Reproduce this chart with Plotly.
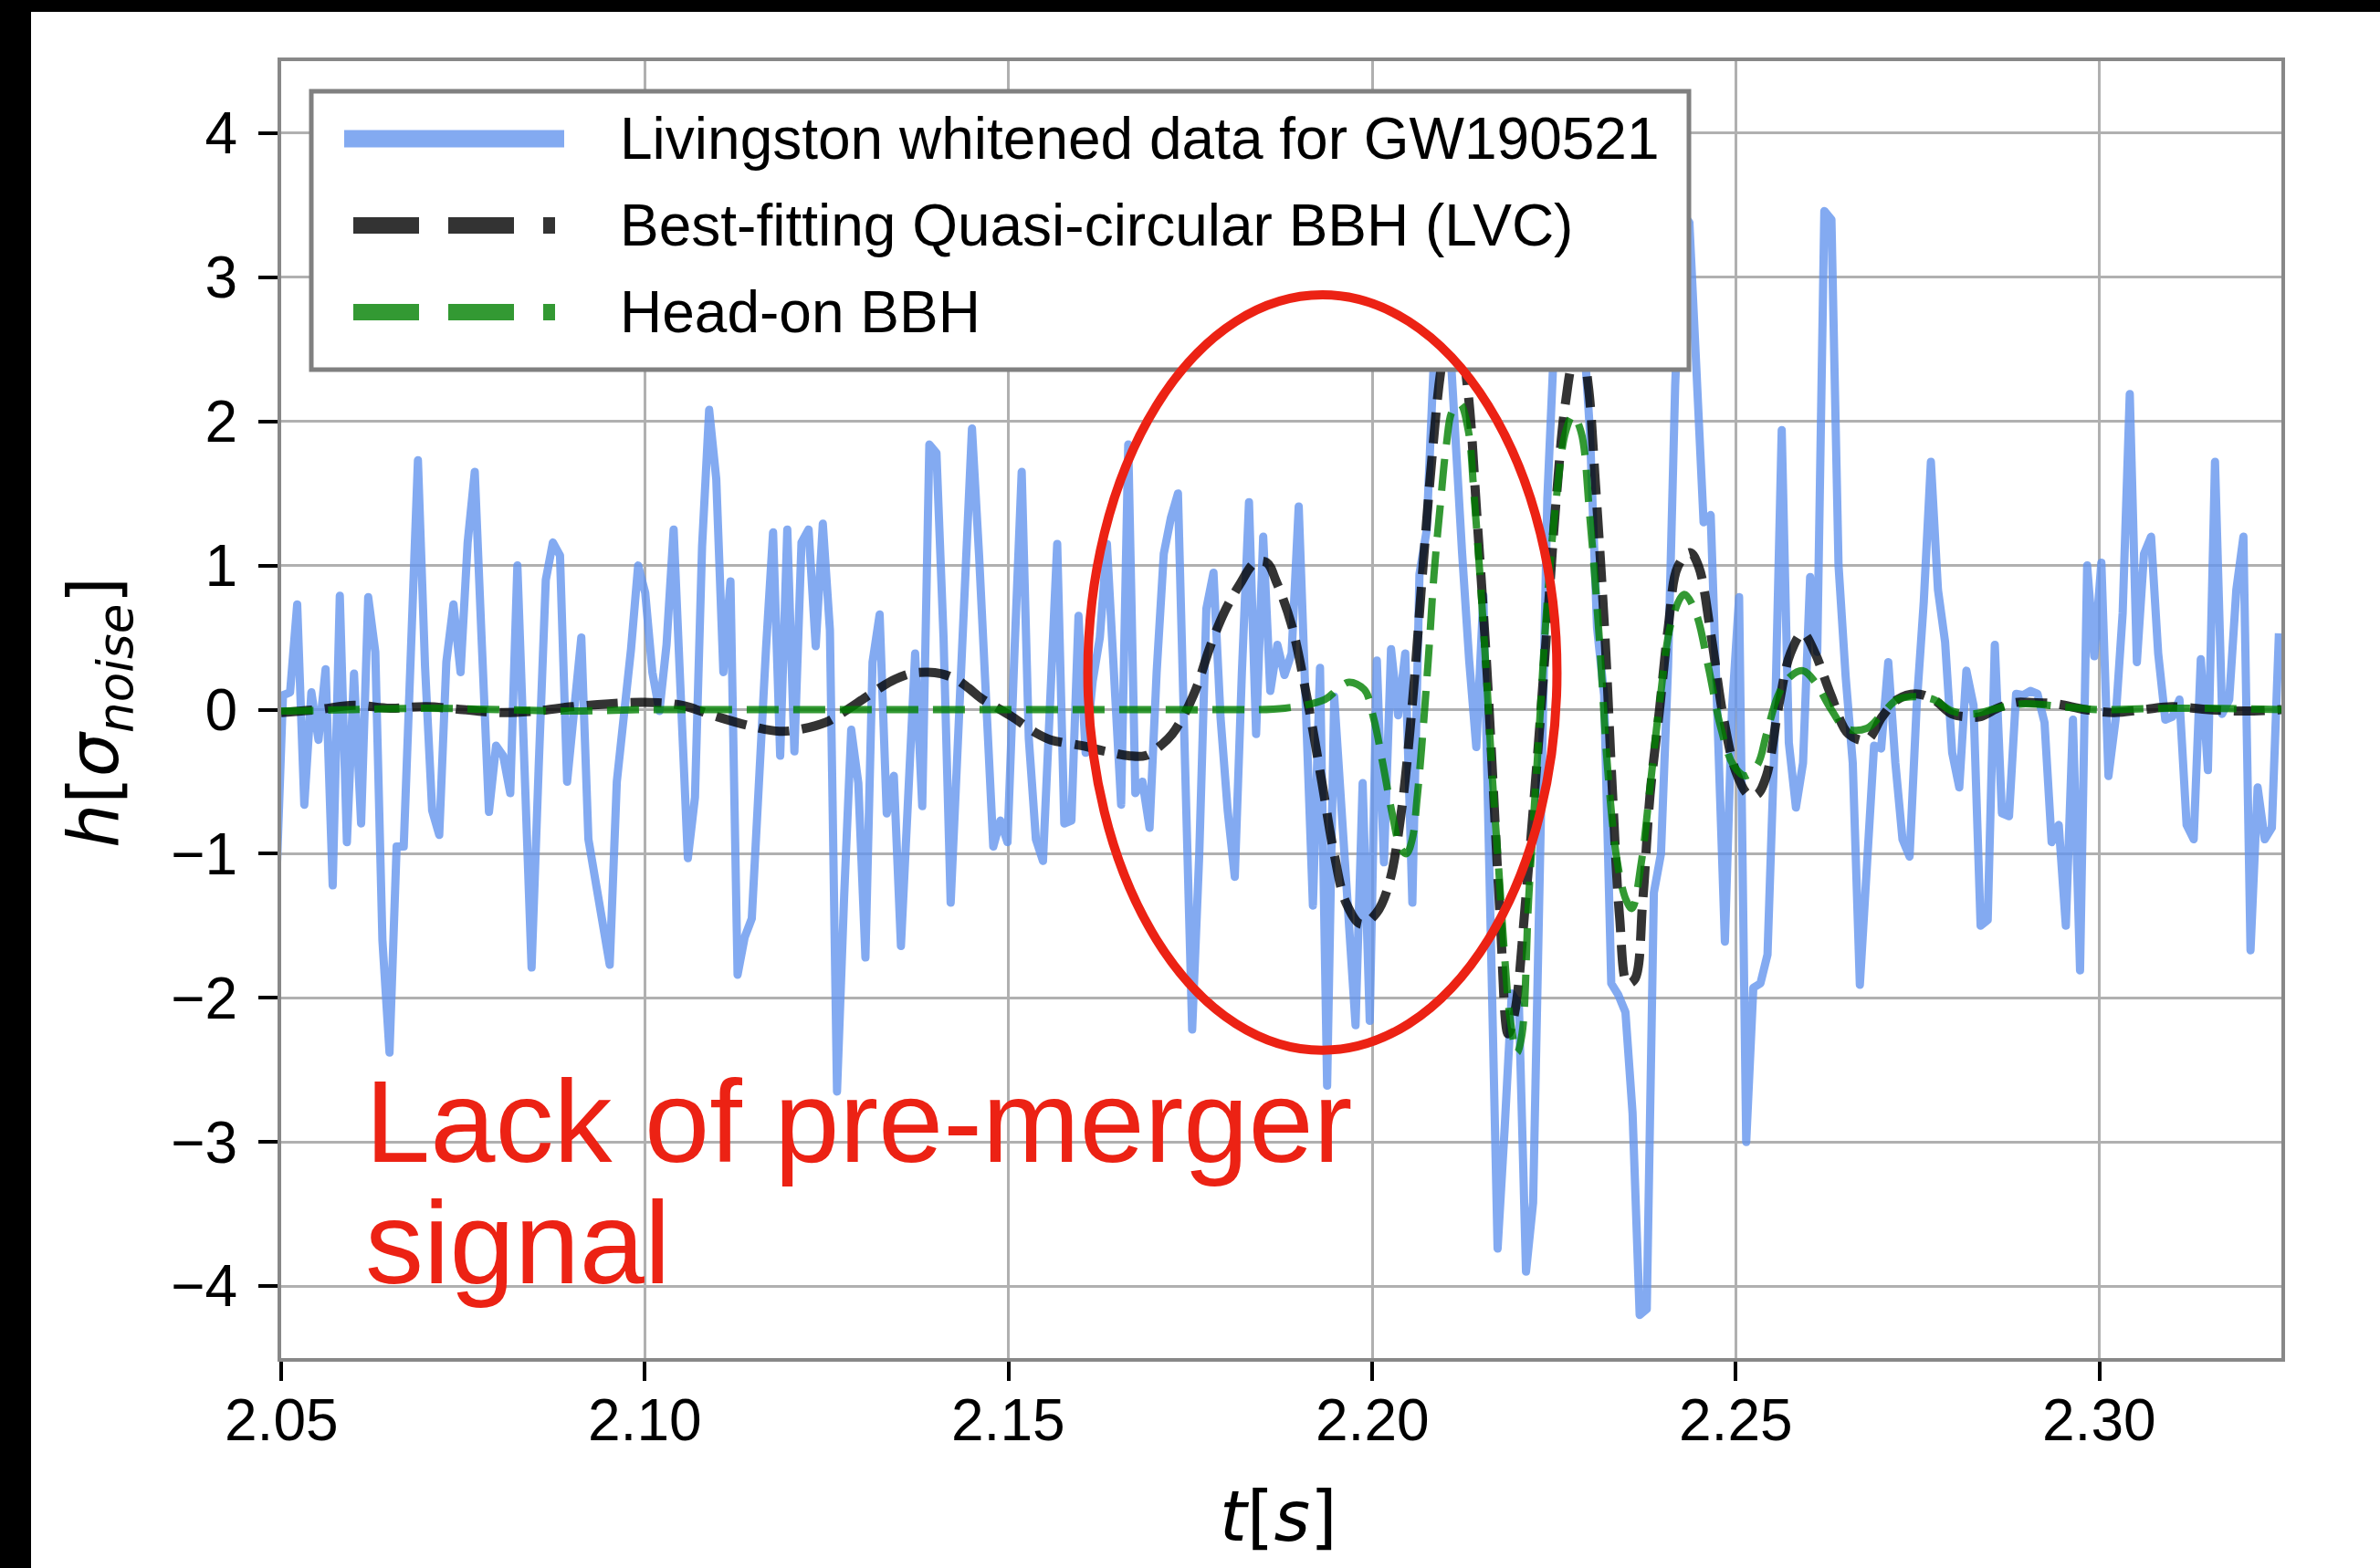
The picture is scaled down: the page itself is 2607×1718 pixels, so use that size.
import numpy as np
import plotly.graph_objects as go

# ---------------- data ----------------
# Livingston whitened strain, sampled at 1024 Hz starting at T0
FS = 1024.0
T0 = 2.04927
h_livingston = [
    -1.3,
    0.1, 0.12, 0.73, -0.66, 0.12, -0.21, 0.28, -1.22, 0.79, -0.92,
    0.25, -0.79, 0.78, 0.4, -1.6, -2.38, -0.95, -0.95, 0.4, 1.73,
    0.3, -0.7, -0.87, 0.33, 0.73, 0.26, 1.16, 1.65, 0.45, -0.71,
    -0.25, -0.32, -0.58, 1.0, -0.4, -1.79, -0.4, 0.9, 1.16, 1.07,
    -0.5, 0.0, 0.5, -0.9, -1.19, -1.5, -1.77, -0.5, -0.06, 0.42,
    1.0, 0.81, 0.26, -0.01, 0.45, 1.25, 0.1, -1.03, -0.61, 1.13,
    2.08, 1.6, 0.26, 0.89, -1.84, -1.58, -1.45, -0.4, 0.42, 1.23,
    -0.32, 1.25, -0.29, 1.16, 1.25, 0.44, 1.29, 0.55, -2.65, -1.3,
    -0.14, -0.51, -1.72, 0.33, 0.66, -0.72, -0.46, -1.64, -0.63, 0.39,
    -0.67, 1.84, 1.78, 0.5, -1.34, -0.32, 0.78, 1.95, 1.07, 0.0,
    -0.95, -0.77, -0.92, 0.42, 1.65, -0.2, -0.9, -1.05, -0.05, 1.15,
    -0.79, -0.77, 0.65, -0.3, 0.2, 0.5, 1.15, 0.33, -0.66, 1.84,
    -0.58, -0.5, -0.82, 0.26, 1.08, 1.33, 1.5, -0.38, -2.22, -1.0,
    0.7, 0.95, -0.06, -0.7, -1.16, 0.26, 1.44, -0.17, 1.2, 0.13,
    0.45, 0.24, 0.39, 1.41, 0.04, -1.36, 0.29, -2.61, 0.09, -0.66,
    -1.41, -2.19, -0.51, -2.16, 0.34, -1.06, 0.42, -0.04, 0.39, -1.34,
    0.94, 1.24, 2.4, 3.0, 2.8, 1.84, 1.09, 0.34, -0.26, 0.79,
    -1.66, -3.74, -2.9, -1.97, -2.05, -3.9, -3.42, -0.8, 1.46, 2.6,
    3.2, 2.8, 3.3, 2.7, 1.93, 0.57, 0.1, -1.9, -1.98, -2.1,
    -2.8, -4.2, -4.16, -1.27, -1.0, 0.3, 2.25, 3.45, 3.38, 2.35,
    1.3, 1.35, 0.0, -1.61, 0.0, 0.78, -3.0, -1.93, -1.9, -1.7,
    -0.2, 1.94, -0.23, -0.68, -0.37, 0.92, 0.4, 3.46, 3.4, 1.0,
    0.23, -0.37, -1.91, -0.98, -0.25, -0.27, 0.33, -0.37, -0.9, -1.02,
    0.03, 0.75, 1.72, 0.83, 0.47, -0.3, -0.54, 0.27, 0.03, -1.5,
    -1.46, 0.45, -0.72, -0.74, 0.11, 0.1, 0.13, 0.11, -0.09, -0.92,
    -0.8, -1.5, -0.07, -1.81, 1.0, 0.37, 1.02, -0.46, -0.07, 0.67,
    2.19, 0.33, 1.08, 1.2, 0.39, -0.07, -0.05, 0.07, -0.8, -0.9,
    0.35, -0.42, 1.72, -0.03, 0.07, 0.83, 1.2, -1.67, -0.54, -0.9,
    -0.82, 0.53,
]
t_livingston = T0 + np.arange(len(h_livingston)) / FS

# Best-fitting quasi-circular BBH (LVC)
t_qc = [
    2.0500, 2.0550, 2.0600, 2.0650, 2.0700, 2.0750, 2.0800, 2.0850, 2.0900, 2.0950,
    2.1000, 2.1050, 2.1100, 2.1150, 2.1185, 2.1210, 2.1248, 2.1269, 2.1302, 2.1323,
    2.1344, 2.1365, 2.1386, 2.1407, 2.1428, 2.1445, 2.1462, 2.1482, 2.1505, 2.1537,
    2.1558, 2.1600, 2.1634, 2.1665, 2.1688, 2.1709, 2.1725, 2.1742, 2.1759, 2.1776,
    2.1797, 2.1818, 2.1839, 2.1855, 2.1868, 2.1889, 2.1910, 2.1931, 2.1948, 2.1964,
    2.1985, 2.2006, 2.2023, 2.2040, 2.2056, 2.2069, 2.2082, 2.2094, 2.2108, 2.2120,
    2.2132, 2.2144, 2.2157, 2.2166, 2.2176, 2.2187, 2.2196, 2.2211, 2.2228, 2.2241,
    2.2253, 2.2266, 2.2278, 2.2288, 2.2297, 2.2307, 2.2320, 2.2330, 2.2340, 2.2351,
    2.2361, 2.2372, 2.2382, 2.2395, 2.2407, 2.2420, 2.2437, 2.2449, 2.2466, 2.2483,
    2.2500, 2.2517, 2.2529, 2.2542, 2.2559, 2.2575, 2.2592, 2.2609, 2.2630, 2.2655,
    2.2680, 2.2701, 2.2722, 2.2747, 2.2772, 2.2797, 2.2818, 2.2835, 2.2860, 2.2885,
    2.2902, 2.2940, 2.2980, 2.3020, 2.3060, 2.3100, 2.3150, 2.3200, 2.3250,
]
h_qc = [
    -0.02, 0.00, 0.03, 0.01, 0.02, 0.00, -0.02, -0.01, 0.02, 0.04,
    0.05, 0.03, -0.05, -0.12, -0.15, -0.14, -0.09, -0.03, 0.08, 0.15,
    0.21, 0.25, 0.26, 0.25, 0.21, 0.15, 0.08, 0.02, -0.05, -0.16,
    -0.21, -0.25, -0.29, -0.32, -0.32, -0.25, -0.17, -0.03, 0.16, 0.42,
    0.68, 0.87, 1.02, 1.02, 0.89, 0.59, 0.09, -0.51, -1.01, -1.34,
    -1.49, -1.41, -1.21, -0.71, 0.09, 0.94, 1.74, 2.34, 2.75, 2.6,
    2.19, 1.34, 0.34, -0.5, -1.45, -2.25, -2.1, -1.32, -0.27, 0.62,
    1.46, 2.14, 2.45, 2.5, 2.25, 1.56, 0.51, -0.54, -1.43, -1.9,
    -1.87, -1.32, -0.59, 0.0, 0.57, 0.99, 1.09, 0.99, 0.51, -0.06,
    -0.43, -0.59, -0.59, -0.46, 0.03, 0.39, 0.53, 0.39, 0.11, -0.17,
    -0.21, -0.05, 0.07, 0.11, 0.07, -0.03, -0.05, -0.05, 0.01, 0.05,
    0.05, 0.04, 0.0, -0.02, 0.0, 0.02, 0.0, -0.01, 0.0,
]

# Head-on BBH
t_headon = [
    2.0500, 2.0600, 2.0700, 2.0800, 2.0900, 2.1000, 2.1100, 2.1200, 2.1300, 2.1400,
    2.1500, 2.1600, 2.1700, 2.1800, 2.1880, 2.1935, 2.1952, 2.1968, 2.1989, 2.2002,
    2.2014, 2.2027, 2.2039, 2.2047, 2.2055, 2.2062, 2.2068, 2.2077, 2.2085, 2.2094,
    2.2102, 2.2110, 2.2121, 2.2132, 2.2140, 2.2148, 2.2157, 2.2165, 2.2174, 2.2182,
    2.2190, 2.2199, 2.2206, 2.2215, 2.2228, 2.2241, 2.2253, 2.2266, 2.2276, 2.2287,
    2.2299, 2.2312, 2.2324, 2.2337, 2.2349, 2.2357, 2.2370, 2.2382, 2.2395, 2.2412,
    2.2429, 2.2445, 2.2462, 2.2479, 2.2496, 2.2513, 2.2530, 2.2542, 2.2559, 2.2575,
    2.2592, 2.2609, 2.2630, 2.2651, 2.2680, 2.2701, 2.2722, 2.2747, 2.2772, 2.2797,
    2.2826, 2.2860, 2.2894, 2.2950, 2.3000, 2.3100, 2.3250,
]
h_headon = [
    -0.01, 0.0, 0.01, 0.0, -0.01, 0.0, 0.0, 0.0, 0.0, 0.0,
    0.0, 0.0, 0.0, 0.0, 0.01, 0.07, 0.14, 0.19, 0.14, -0.06,
    -0.36, -0.71, -0.96, -1.0, -0.9, -0.6, -0.26, 0.34, 0.94, 1.44,
    1.84, 2.07, 2.12, 1.94, 1.49, 0.94, 0.24, -0.46, -1.11, -1.71,
    -2.16, -2.38, -2.25, -1.32, -0.27, 0.78, 1.46, 1.93, 2.04, 1.93,
    1.35, 0.51, -0.43, -1.06, -1.32, -1.38, -1.06, -0.54, 0.04, 0.62,
    0.8, 0.67, 0.3, -0.12, -0.38, -0.46, -0.38, -0.17, 0.11, 0.23,
    0.27, 0.19, 0.01, -0.13, -0.13, -0.03, 0.07, 0.09, 0.07, -0.01,
    -0.03, 0.01, 0.04, 0.02, 0.0, 0.01, 0.0,
]

x_tickvals = [2.05, 2.10, 2.15, 2.20, 2.25, 2.30]
x_ticktext = ["2.05", "2.10", "2.15", "2.20", "2.25", "2.30"]
y_tickvals = [-4, -3, -2, -1, 0, 1, 2, 3, 4]
y_ticktext = ["\u22124", "\u22123", "\u22122", "\u22121", "0", "1", "2", "3", "4"]

legend_labels = [
    "Livingston whitened data for GW190521",
    "Best-fitting Quasi-circular BBH (LVC)",
    "Head-on BBH",
]
note_lines = ["Lack of pre-merger", "signal"]
# region highlighted by the red ellipse (data units)
ellipse_t = [2.1609, 2.2254]
ellipse_h = [-2.364, 2.878]

# ---------------- styling ----------------
W, H = 2607, 1718
L, R, T, B = 308, 2499, 67, 1488  # plot area in pixels
PW, PH = R - L, B - T

def px(x):
    return (x - L) / PW

def py(y):
    return (B - y) / PH

BLUE = "rgba(100,149,237,0.8)"
BLACK = "rgba(0,0,0,0.8)"
GREEN = "rgba(0,128,0,0.8)"
RED = "rgb(236,34,20)"
SANS = "Liberation Sans, Arial, Helvetica, sans-serif"
MATH = "DejaVu Sans, sans-serif"

fig = go.Figure()
fig.add_trace(go.Scatter(x=t_livingston, y=h_livingston, mode="lines",
                         line=dict(color=BLUE, width=9), name=legend_labels[0],
                         showlegend=False))
fig.add_trace(go.Scatter(x=t_qc, y=h_qc, mode="lines",
                         line=dict(color=BLACK, width=10, dash="34px,14px", shape="spline"),
                         name=legend_labels[1], showlegend=False))
fig.add_trace(go.Scatter(x=t_headon, y=h_headon, mode="lines",
                         line=dict(color=GREEN, width=8, dash="35px,16px", shape="spline"),
                         name=legend_labels[2], showlegend=False))

shapes = []
# black strips on top and left of the picture
shapes.append(dict(type="rect", xref="paper", yref="paper", x0=px(-50), x1=px(34),
                   y0=py(H + 50), y1=py(-50), fillcolor="black", line=dict(width=0), layer="above"))
shapes.append(dict(type="rect", xref="paper", yref="paper", x0=px(-50), x1=px(W + 50),
                   y0=py(13), y1=py(-50), fillcolor="black", line=dict(width=0), layer="above"))
# legend frame
shapes.append(dict(type="rect", xref="paper", yref="paper", x0=px(341), x1=px(1850),
                   y0=py(405), y1=py(100), fillcolor="white",
                   line=dict(color="#808080", width=5), layer="above"))
legend_rows = [152, 247, 342]
shapes.append(dict(type="line", xref="paper", yref="paper", x0=px(377), x1=px(618),
                   y0=py(legend_rows[0]), y1=py(legend_rows[0]),
                   line=dict(color=BLUE, width=19), layer="above"))
shapes.append(dict(type="line", xref="paper", yref="paper", x0=px(387), x1=px(608),
                   y0=py(legend_rows[1]), y1=py(legend_rows[1]),
                   line=dict(color=BLACK, width=18, dash="72px,32px"), layer="above"))
shapes.append(dict(type="line", xref="paper", yref="paper", x0=px(387), x1=px(608),
                   y0=py(legend_rows[2]), y1=py(legend_rows[2]),
                   line=dict(color=GREEN, width=18, dash="72px,32px"), layer="above"))
# red ellipse
shapes.append(dict(type="circle", xref="x", yref="y", x0=ellipse_t[0], x1=ellipse_t[1],
                   y0=ellipse_h[0], y1=ellipse_h[1], line=dict(color=RED, width=10),
                   layer="above"))

annotations = []
for lab, row in zip(legend_labels, legend_rows):
    annotations.append(dict(text=lab, xref="paper", yref="paper", x=px(677), y=py(row),
                            xanchor="left", yanchor="middle", showarrow=False,
                            font=dict(family=SANS, size=64, color="black")))
annotations.append(dict(text=note_lines[0], xref="paper", yref="paper", x=px(398), y=py(1228),
                        xanchor="left", yanchor="middle", showarrow=False,
                        font=dict(family=SANS, size=128, color=RED)))
annotations.append(dict(text=note_lines[1], xref="paper", yref="paper", x=px(398), y=py(1361),
                        xanchor="left", yanchor="middle", showarrow=False,
                        font=dict(family=SANS, size=128, color=RED)))
# x tick labels
for tv, tt in zip(x_tickvals, x_ticktext):
    annotations.append(dict(text=tt, xref="x", yref="paper", x=tv, y=py(1556),
                            xanchor="center", yanchor="middle", showarrow=False,
                            font=dict(family=SANS, size=64, color="black")))
# axis titles
annotations.append(dict(text="<i>t</i>[<i>s</i>]", xref="paper", yref="paper",
                        x=px(1400), y=py(1661), xanchor="center", yanchor="middle",
                        showarrow=False, font=dict(family=MATH, size=76, color="black")))
annotations.append(dict(text="<i>h</i>[<i>\u03c3</i><sub><i>noise</i></sub>]", xref="paper",
                        yref="paper", x=px(108), y=py(781), xanchor="center",
                        yanchor="middle", textangle=-90, showarrow=False,
                        font=dict(family=MATH, size=76, color="black")))

axis_common = dict(showgrid=True, gridcolor="#b0b0b0", gridwidth=3, zeroline=False,
                   showline=True, linecolor="#888888", linewidth=4, mirror=True,
                   ticks="outside", ticklen=21, tickwidth=4, tickcolor="black",
                   tickfont=dict(family=SANS, size=64, color="black"))

fig.update_layout(
    width=W, height=H, autosize=False,
    margin=dict(l=L, r=W - R, t=T, b=H - B, pad=0),
    paper_bgcolor="white", plot_bgcolor="white",
    showlegend=False,
    xaxis=dict(range=[2.05, 2.325], tickmode="array", tickvals=x_tickvals,
               ticktext=x_ticktext, showticklabels=False, **axis_common),
    yaxis=dict(range=[-4.5, 4.5], tickmode="array", tickvals=y_tickvals,
               ticktext=y_ticktext, ticklabelstandoff=10, **axis_common),
    shapes=shapes,
    annotations=annotations,
)

page_fix = (
    "var s=document.createElement('style');"
    "s.innerHTML='html,body{margin:0;padding:0;overflow:hidden;}"
    " .modebar-container,.modebar{display:none !important;}"
    " .scatterlayer .trace:first-child path.js-line{stroke-linejoin:round;}';"
    "document.head.appendChild(s);"
)
fig.write_html("out.html", config={"displayModeBar": False}, post_script=page_fix)
